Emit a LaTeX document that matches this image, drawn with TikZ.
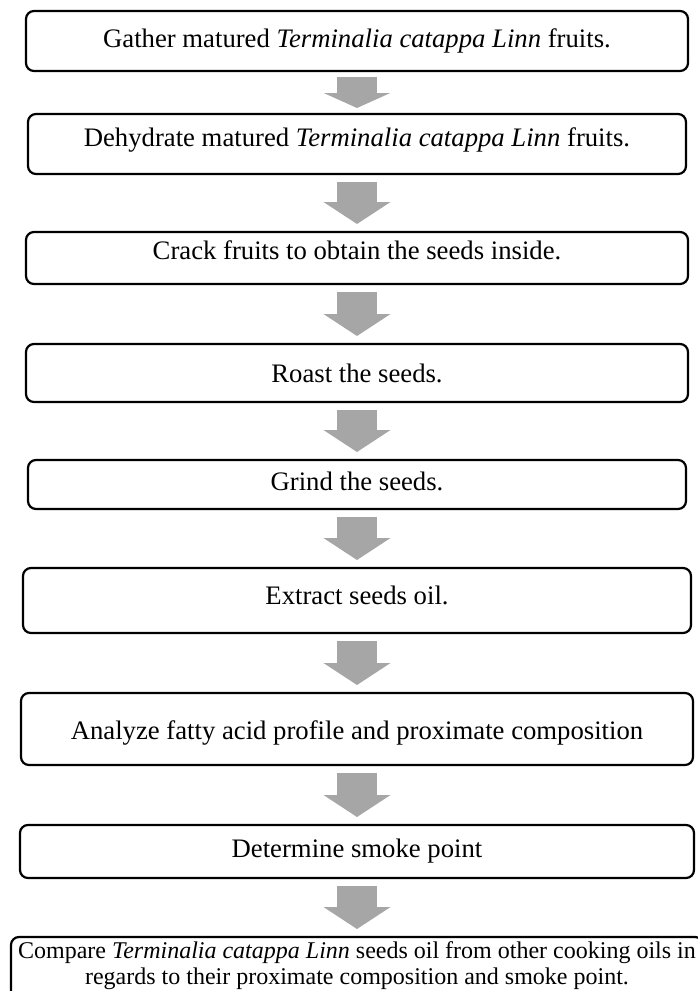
\documentclass[tikz,border=0pt]{standalone}
\usepackage{fontspec}
\setmainfont{Liberation Serif}
\usetikzlibrary{positioning,arrows.meta}
\definecolor{arrowgray}{RGB}{166,166,166}
\tikzset{
x=1pt,
y=1pt,
node distance=58pt,
box/.style={draw, line width=2.2pt, rounded corners=8pt, minimum width=#1,
  outer sep=0pt, inner sep=0pt, text height=18pt, text depth=6pt,
  font=\fontsize{26.7pt}{30pt}\selectfont},
box/.default=662pt,
flow/.style={draw=arrowgray, line width=40pt, -{Triangle[length=22pt,width=66pt]},
  shorten <=8pt, shorten >=8pt},
}

\begin{document}
\begin{tikzpicture}
    \useasboundingbox (0,0) rectangle (697,-991);

    \node[box=662pt,minimum height=60pt] (gather) at (357,-41) {Gather matured \textit{Terminalia catappa Linn} fruits.};
    \node[box=658pt,minimum height=60pt,below=43pt of gather] (dehydrate) {\raisebox{4pt}{Dehydrate matured \textit{Terminalia catappa Linn} fruits.}};
    \node[box=662pt,minimum height=52pt,below=58pt of dehydrate] (crack) {\raisebox{5pt}{Crack fruits to obtain the seeds inside.}};
    \node[box=662pt,minimum height=58pt,below=60pt of crack] (roast) {\raisebox{-3pt}{Roast the seeds.}};
    \node[box=658pt,minimum height=49pt,below=58pt of roast] (grind) {Grind the seeds.};
    \node[box=668pt,minimum height=65pt,below=59pt of grind] (extract) {\raisebox{2pt}{Extract seeds oil.}};
    \node[box=672pt,minimum height=72pt,below=60pt of extract] (analyze) {\raisebox{-4pt}{Analyze fatty acid profile and proximate composition}};
    \node[box=674pt,minimum height=53pt,below=60pt of analyze] (smoke) {Determine smoke point};
    \node[box=692pt,below=59pt of smoke,align=center,inner ysep=5pt,text height={},text depth=40pt,
      font=\fontsize{24pt}{26pt}\selectfont] (compare) {Compare \textit{Terminalia catappa Linn} seeds oil from other cooking oils in\\
      regards to their proximate composition and smoke point.};

    \draw[flow,shorten <=6pt,shorten >=6pt,-{Triangle[length=15pt,width=66pt]}] (gather) -- (dehydrate);
    \draw[flow] (dehydrate) -- (crack);
    \draw[flow] (crack) -- (roast);
    \draw[flow] (roast) -- (grind);
    \draw[flow] (grind) -- (extract);
    \draw[flow] (extract) -- (analyze);
    \draw[flow] (analyze) -- (smoke);
    \draw[flow] (smoke) -- (compare);

\end{tikzpicture}
\end{document}
